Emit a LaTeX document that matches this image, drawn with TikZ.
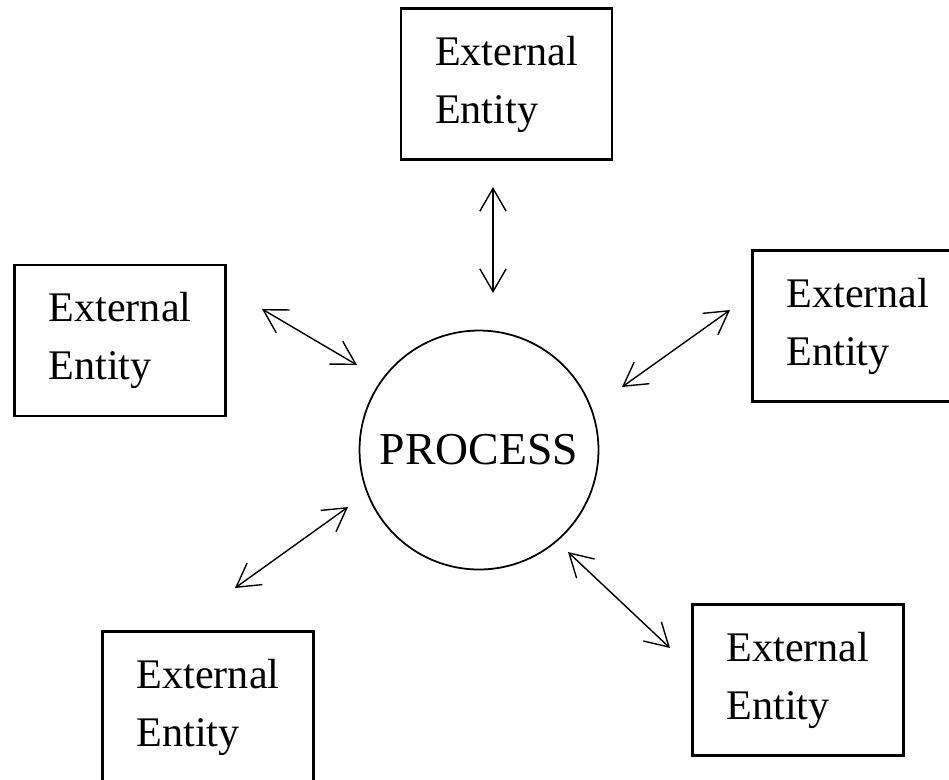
\documentclass[tikz,border=0pt]{standalone}
\usepackage{fontspec}
\setmainfont{Liberation Serif}
\usetikzlibrary{positioning, arrows.meta}
\tikzset{
    entity/.style = {
        rectangle,
        draw,
        line width=1.3pt,
        minimum width=4.22cm,
        minimum height=3.02cm,
        align=left,
        font=\fontsize{24}{33}\selectfont
    },
    process/.style = {
        circle,
        draw,
        line width=1pt,
        minimum size=4.78cm,
        inner sep=0pt,
        font=\fontsize{26}{30}\selectfont
    },
    flow/.style = {{Straight Barb[length=13pt, width=15pt]}-{Straight Barb[length=13pt, width=15pt]}, line width=0.8pt}
}

\begin{document}
\begin{tikzpicture}[x=0.02cm, y=-0.02cm]
\useasboundingbox (0,0) rectangle (949,779);

% Process
\node[process] (proc) at (479,450) {PROCESS};

% External entities
\node[entity, above=3.38cm of proc, xshift=0.55cm] (top) {External\\Entity};
\node[entity, left=2.64cm of proc, yshift=2.19cm] (left) {External\\Entity};
\node[entity, right=3.04cm of proc, yshift=2.48cm] (right) {External\\Entity};
\node[entity, below=1.2cm of proc, xshift=-5.42cm] (botleft) {External\\Entity};
\node[entity, below=0.66cm of proc, xshift=6.38cm] (botright) {External\\Entity};

% Flow ends
\coordinate (topA) at (493,187);
\coordinate (topB) at (493,293);
\coordinate (leftA) at (262,309);
\coordinate (leftB) at (357,365);
\coordinate (rightA) at (730,310);
\coordinate (rightB) at (622,387);
\coordinate (blA) at (348,507);
\coordinate (blB) at (235,588);
\coordinate (brA) at (568,552);
\coordinate (brB) at (670,648);

\draw[flow] (topA) -- (topB);
\draw[flow] (leftA) -- (leftB);
\draw[flow] (rightA) -- (rightB);
\draw[flow] (blA) -- (blB);
\draw[flow] (brA) -- (brB);

\end{tikzpicture}
\end{document}
